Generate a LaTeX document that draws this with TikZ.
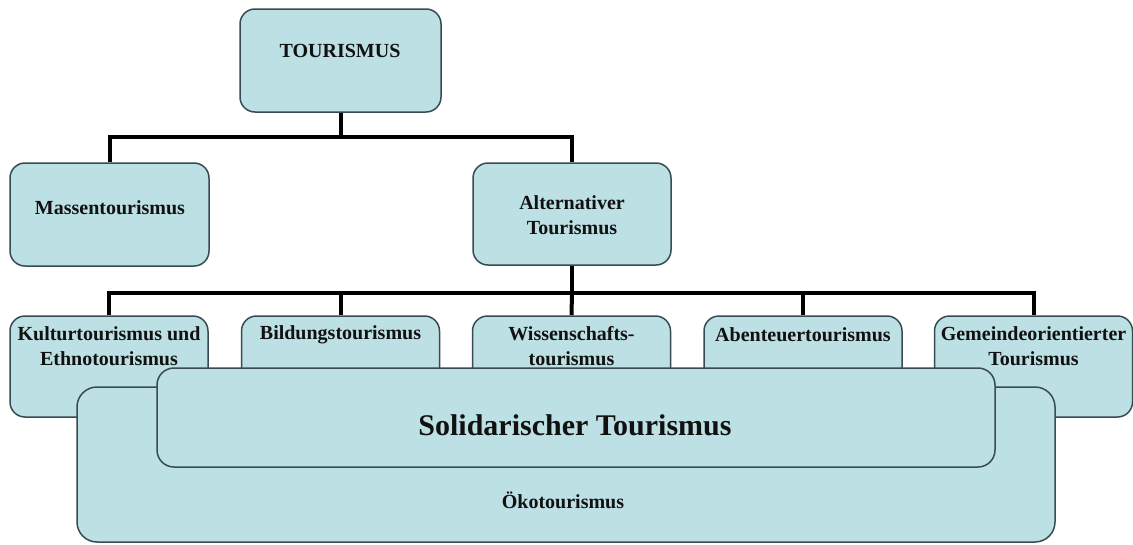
\documentclass[tikz,border=0pt]{standalone}
\usepackage{fontspec}
\setmainfont{Liberation Serif}
\usetikzlibrary{backgrounds}
\definecolor{boxfill}{RGB}{188,224,228}
\definecolor{boxline}{RGB}{55,75,82}
\definecolor{txt}{RGB}{17,17,17}
\begin{document}
\begin{tikzpicture}[x=1pt,y=-1pt,
  box/.style={draw=boxline,line width=1.5pt,fill=boxfill,rounded corners=15pt,
    inner sep=0pt,minimum width=#1,minimum height=101pt},
  box/.default=198pt,
  lbl/.style={text=txt,font=\bfseries\fontsize{20}{25}\selectfont,align=center,inner sep=0pt},
  conn/.style={draw=black,line width=4pt,line join=miter}]
\useasboundingbox (0,0) rectangle (1133,544);
% upper boxes
\node[box=201pt,minimum height=103pt] (tour) at (340.5,60.5) {};
\node[box=199pt,minimum height=103pt] (mass) at (109.5,214.5) {};
\node[box=198pt,minimum height=102pt] (alt) at (572,214) {};
% row 2
\node[box] (kult) at (109,366.5) {};
\node[box] (bild) at (340.5,366.5) {};
\node[box] (wiss) at (571.5,366.5) {};
\node[box] (abent) at (803,366.5) {};
\node[box] (gem) at (1033.5,366.5) {};
% connectors behind the boxes
\coordinate (j1) at (340.5,137);
\coordinate (j2) at (572,293);
\begin{pgfonlayer}{background}
\draw[conn] (tour.south) -- (j1);
\draw[conn] (mass.north) |- (j1) -| (alt.north);
\draw[conn] (alt.south) -- (j2);
\draw[conn] (kult.north) |- (j2) -| (gem.north);
\draw[conn] (bild.north) -- (bild.north |- j2);
\draw[conn] (wiss.north) -- (j2);
\draw[conn] (abent.north) -- (abent.north |- j2);
\end{pgfonlayer}
% labels
\node[lbl] (tourT) at (340,51) {TOURISMUS};
\node[lbl] (massT) at (110,208) {Massentourismus};
\node[lbl] (altT) at (572,215.5) {Alternativer\\Tourismus};
\node[lbl] (kultT) at (109,346) {Kulturtourismus und\\Ethnotourismus};
\node[lbl] (bildT) at (340.5,335) {Bildungstourismus};
\node[lbl] (wissT) at (571.5,346) {Wissenschafts-\\tourismus};
\node[lbl] (abentT) at (803,335) {Abenteuertourismus};
\node[lbl] (gemT) at (1033.5,346) {Gemeindeorientierter\\Tourismus};
% overlapping boxes
\node[box=978pt,minimum height=155pt,rounded corners=20pt] (oeko) at (566,464.5) {};
\node[box=838pt,minimum height=99pt,rounded corners=17pt] (sol) at (576,417.5) {};
\node[lbl] (oekoT) at (563,500) {Ökotourismus};
\node[lbl,font=\bfseries\fontsize{30}{36}\selectfont] (solT) at (575,425) {Solidarischer Tourismus};
\end{tikzpicture}
\end{document}
